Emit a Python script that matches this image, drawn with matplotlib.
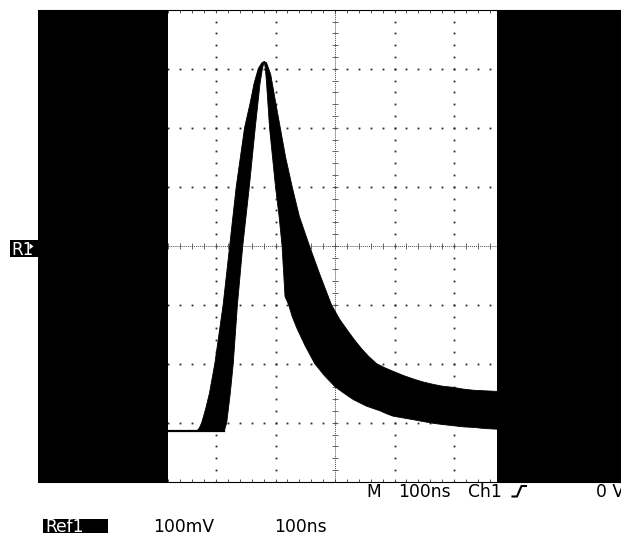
import matplotlib.pyplot as plt
import numpy as np
from matplotlib.patches import Rectangle, Polygon
from matplotlib.lines import Line2D

W, H = 621, 537

# scope settings (100 ns/div, 100 mV/div, 10 x 8 divisions)
t_range = (0, 1000)
v_range = (-400, 400)
baseline_v = -314
screen_left_end = 220     # ns, left black area ends here
screen_right_start = 773  # ns, right black area starts here

# leading (early) edge of the rising part
early_t = [268, 272, 276, 283, 289, 298, 305, 312, 323, 334, 348, 357, 364, 371, 377, 381]
early_v = [-314, -309, -300, -275, -250, -200, -150, -100, 0, 100, 200, 240, 275, 300, 310, 312]
# trailing (late) edge of the rising part
late_t = [314, 318, 324, 329, 336, 345, 356, 366, 374, 378, 381]
late_v = [-314, -300, -250, -200, -100, 0, 100, 200, 275, 300, 312]
# upper edge of the decay
outer_t = [381, 385, 392, 399, 408, 417, 428, 440, 457, 475, 494, 508, 522, 533, 545, 557,
           570, 584, 598, 615, 632, 648, 665, 680, 698, 715, 733, 753, 773]
outer_v = [312, 310, 290, 250, 200, 150, 100, 50, 0, -50, -100, -125, -145, -160, -175, -188,
           -200, -207, -213, -220, -226, -231, -235, -238, -240, -243, -245, -246, -247]
# lower edge of the decay
inner_t = [381, 383, 385, 390, 400, 406, 411, 416, 422, 428, 436, 450, 466, 482, 500, 515,
           531, 553, 576, 587, 598, 615, 632, 648, 665, 680, 698, 715, 733, 753, 773]
inner_v = [312, 300, 275, 200, 100, 50, 0, -86, -100, -120, -140, -170, -200, -220, -239, -250,
           -261, -272, -280, -285, -289, -292, -295, -298, -301, -303, -305, -307, -308, -310, -311]


def px(x, y):
    return x / W, 1 - y / H


fig = plt.figure(figsize=(W / 100, H / 100), dpi=100)
ax = fig.add_axes([37.5 / W, 1 - 481.7 / H, 595 / W, 472 / H])
ax.set_xlim(*t_range)
ax.set_ylim(*v_range)

# graticule: dotted division lines
minor_t = np.arange(0, 1000.1, 20)
minor_v = np.arange(-400, 400.1, 20)
for t in range(100, 1000, 100):
    if t == 500:
        continue
    ax.plot([t] * len(minor_v), minor_v, 's', ms=1.3, color='0.15', mew=0, zorder=1)
for v in range(-300, 400, 100):
    if v == 0:
        continue
    ax.plot(minor_t, [v] * len(minor_t), 's', ms=1.3, color='0.15', mew=0, zorder=1)

# center cross with small ticks
ax.axhline(0, ls=(0, (1, 1)), lw=0.7, color='0.3', zorder=1)
ax.axvline(500, ls=(0, (1, 1)), lw=0.7, color='0.3', zorder=1)
ax.plot(minor_t, np.zeros_like(minor_t), '|', ms=4, mew=0.6, color='0.3', zorder=1)
ax.plot(np.full_like(minor_v, 500), minor_v, '_', ms=4, mew=0.6, color='0.3', zorder=1)

# waveform band
band_t = early_t + outer_t + inner_t[::-1] + late_t[::-1]
band_v = early_v + outer_v + inner_v[::-1] + late_v[::-1]
ax.fill(band_t, band_v, color='k', lw=0.6, zorder=3)
ax.plot([screen_left_end, late_t[0]], [baseline_v, baseline_v], 'k', lw=1.6, zorder=3)

# black side areas
ax.axvspan(t_range[0], screen_left_end, color='k', lw=0, zorder=4)
ax.axvspan(screen_right_start, t_range[1], color='k', lw=0, zorder=4)

ax.set_xticks(minor_t)
ax.set_yticks([])
ax.tick_params(axis='x', direction='in', length=2.5, width=0.6, top=True, bottom=True,
               labelbottom=False, color='0.2')
for s in ['left', 'right']:
    ax.spines[s].set_visible(False)
for s in ['top', 'bottom']:
    ax.spines[s].set_linewidth(0.8)

# R1 marker
fig.patches.append(Rectangle(px(10, 256.7), 29.5 / W, 16.7 / H, transform=fig.transFigure,
                             facecolor='k', edgecolor='none'))
fig.patches.append(Polygon([px(29.5, 243.3), px(29.5, 249.5), px(33.5, 246.4)], closed=True,
                           transform=fig.transFigure, facecolor='w', edgecolor='none'))
fig.text(*px(11.5, 255), "R1", color='w', fontsize=12, ha='left', va='baseline')

# status line
fs = 12.3
fig.text(*px(366.7, 497.3), "M", fontsize=fs, ha='left', va='baseline')
fig.text(*px(398.3, 497.3), "100ns", fontsize=fs, ha='left', va='baseline')
fig.text(*px(468.3, 497.3), "Ch1", fontsize=fs, ha='left', va='baseline')
fig.text(*px(596, 497.3), "0 V", fontsize=fs, ha='left', va='baseline')
trig = np.array([px(512.5, 496.5), px(517, 496.5), px(521.5, 486), px(526, 486)])
fig.lines.append(Line2D(trig[:, 0], trig[:, 1], transform=fig.transFigure, color='k', lw=1.5))

fig.patches.append(Rectangle(px(43.3, 533.3), 65 / W, 14 / H, transform=fig.transFigure,
                             facecolor='k', edgecolor='none'))
fig.text(*px(45, 532), "Ref1", color='w', fontsize=fs, ha='left', va='baseline')
fig.text(*px(152.7, 532), "100mV", fontsize=fs, ha='left', va='baseline')
fig.text(*px(274, 532), "100ns", fontsize=fs, ha='left', va='baseline')

fig.savefig("out.png", dpi=100)
